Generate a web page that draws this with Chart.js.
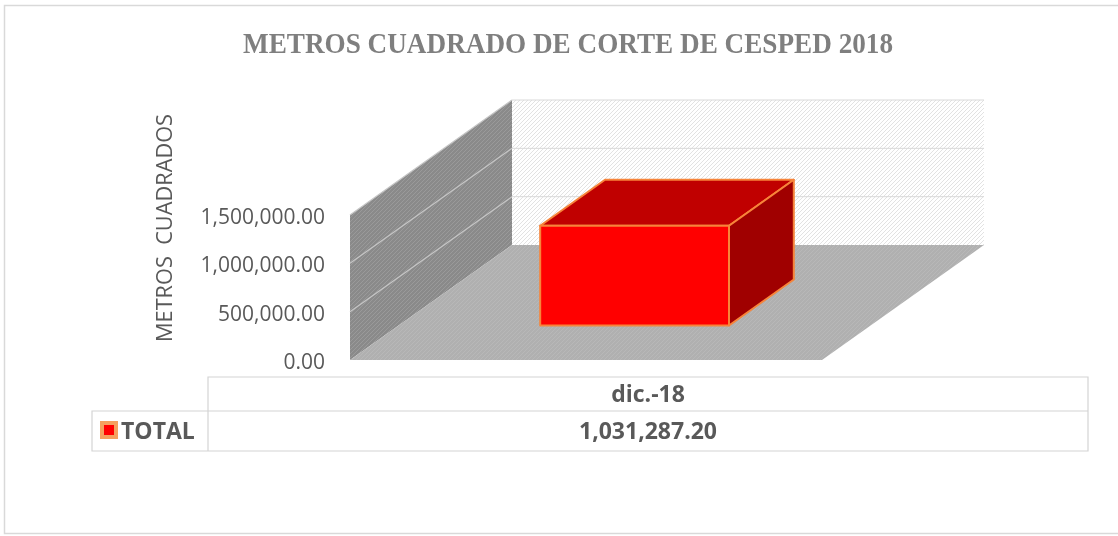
<!DOCTYPE html>
<html>
<head>
<meta charset="utf-8">
<script src="https://cdn.jsdelivr.net/npm/chart.js@4.4.1/dist/chart.umd.min.js"></script>
<style>
  html, body { margin: 0; padding: 0; background: #fff; }
  #wrap { width: 1118px; height: 536px; position: relative; }
</style>
</head>
<body>
<div id="wrap"><canvas id="cesped" width="1118" height="536"></canvas></div>
<script>
const chartTitle = 'METROS CUADRADO DE CORTE DE CESPED 2018';
const axisTitle = 'METROS  CUADRADOS';
const categories = ['dic.-18'];
const seriesName = 'TOTAL';
const totals = [1031287.20];
const yTicks = [0, 500000, 1000000, 1500000];

// 3D depth of the box (front plane -> back wall)
const DX = 162, DY = -115;
const BAR_FRONT = 0.3, BAR_BACK = 0.7;

const fmt = v => v.toLocaleString('en-US', { minimumFractionDigits: 2, maximumFractionDigits: 2 });

function hatch(ctx, bg, line, step) {
    const p = document.createElement('canvas');
    p.width = p.height = step;
    const g = p.getContext('2d');
    g.fillStyle = bg;
    g.fillRect(0, 0, step, step);
    g.strokeStyle = line;
    g.lineWidth = 1;
    g.beginPath();
    g.moveTo(0, step); g.lineTo(step, 0);
    g.moveTo(-1, 1); g.lineTo(1, -1);
    g.moveTo(step - 1, step + 1); g.lineTo(step + 1, step - 1);
    g.stroke();
    return ctx.createPattern(p, 'repeat');
}

function poly(ctx, pts, fill, stroke, lw) {
    ctx.beginPath();
    ctx.moveTo(pts[0][0], pts[0][1]);
    for (let i = 1; i < pts.length; i++) ctx.lineTo(pts[i][0], pts[i][1]);
    ctx.closePath();
    if (fill) { ctx.fillStyle = fill; ctx.fill(); }
    if (stroke) { ctx.strokeStyle = stroke; ctx.lineWidth = lw || 1; ctx.lineJoin = 'round'; ctx.stroke(); }
}

const box3d = {
    id: 'box3d',
    beforeDraw(chart) {
        const ctx = chart.ctx;
        ctx.save();
        // outer frame
        ctx.strokeStyle = '#d9d9d9';
        ctx.lineWidth = 1.5;
        ctx.strokeRect(4.5, 5.5, 1130, 528);

        // title, squeezed to the width of the original
        ctx.font = 'bold 30px "Liberation Serif"';
        ctx.fillStyle = '#7f7f7f';
        ctx.textAlign = 'center';
        ctx.textBaseline = 'alphabetic';
        const tw = ctx.measureText(chartTitle).width;
        ctx.translate(568, 53);
        ctx.scale(650 / tw, 1);
        ctx.fillText(chartTitle, 0, 0);
        ctx.restore();

        // y axis title
        ctx.save();
        ctx.font = '21px "Open Sans"';
        ctx.fillStyle = '#595959';
        ctx.textAlign = 'center';
        ctx.textBaseline = 'middle';
        const aw = ctx.measureText(axisTitle).width;
        ctx.translate(166, 228);
        ctx.rotate(-Math.PI / 2);
        ctx.scale(228 / aw, 1);
        ctx.fillText(axisTitle, 0, 0);
        ctx.restore();
    },
    beforeDatasetsDraw(chart) {
        const ctx = chart.ctx;
        const { left, right } = chart.chartArea;
        const y = chart.scales.y;
        const y0 = y.getPixelForValue(yTicks[0]);
        const yTop = y.getPixelForValue(yTicks[yTicks.length - 1]);
        ctx.save();

        // back wall
        poly(ctx, [[left + DX, yTop + DY], [right + DX, yTop + DY], [right + DX, y0 + DY], [left + DX, y0 + DY]],
            hatch(ctx, '#ffffff', '#e2e2e2', 4));
        // side wall
        poly(ctx, [[left, yTop], [left + DX, yTop + DY], [left + DX, y0 + DY], [left, y0]],
            hatch(ctx, '#8a8a8a', '#9a9a9a', 4));
        // floor
        poly(ctx, [[left, y0], [right, y0], [right + DX, y0 + DY], [left + DX, y0 + DY]],
            hatch(ctx, '#b0b0b0', '#b8b8b8', 4));

        // gridlines on the walls
        yTicks.forEach(v => {
            const py = y.getPixelForValue(v);
            if (v === yTicks[0]) return;
            ctx.beginPath();
            ctx.moveTo(left + DX, py + DY);
            ctx.lineTo(right + DX, py + DY);
            ctx.strokeStyle = '#d9d9d9';
            ctx.lineWidth = 1;
            ctx.stroke();
            ctx.beginPath();
            ctx.moveTo(left, py);
            ctx.lineTo(left + DX, py + DY);
            ctx.strokeStyle = '#c6c6c6';
            ctx.lineWidth = 1.2;
            ctx.stroke();
        });

        // the bars, as boxes
        const meta = chart.getDatasetMeta(0);
        meta.data.forEach(el => {
            const p = el.getProps(['x', 'y', 'base', 'width'], true);
            const l = p.x - p.width / 2, r = p.x + p.width / 2;
            const fx = BAR_FRONT * DX, fy = BAR_FRONT * DY;
            const bx = BAR_BACK * DX, by = BAR_BACK * DY;
            const edge = '#f7843a';
            poly(ctx, [[l + fx, p.y + fy], [r + fx, p.y + fy], [r + bx, p.y + by], [l + bx, p.y + by]], '#c00000', edge, 2);
            poly(ctx, [[r + fx, p.y + fy], [r + bx, p.y + by], [r + bx, p.base + by], [r + fx, p.base + fy]], '#a00000', edge, 2);
            poly(ctx, [[l + fx, p.y + fy], [r + fx, p.y + fy], [r + fx, p.base + fy], [l + fx, p.base + fy]], '#ff0000', edge, 2);
        });
        ctx.restore();
        return false;
    },
    afterDraw(chart) {
        const ctx = chart.ctx;
        const T = { x0: 92, x1: 208, x2: 1088, y0: 377, y1: 411, y2: 451 };
        ctx.save();
        ctx.strokeStyle = '#d4d4d4';
        ctx.lineWidth = 1.2;
        ctx.beginPath();
        ctx.moveTo(T.x1, T.y2); ctx.lineTo(T.x1, T.y0); ctx.lineTo(T.x2, T.y0); ctx.lineTo(T.x2, T.y2);
        ctx.lineTo(T.x0, T.y2); ctx.lineTo(T.x0, T.y1); ctx.lineTo(T.x2, T.y1);
        ctx.stroke();

        ctx.fillStyle = '#595959';
        ctx.font = 'bold 23px "Open Sans"';
        ctx.textBaseline = 'middle';
        ctx.textAlign = 'center';
        const cw = (T.x2 - T.x1) / categories.length;
        categories.forEach((c, i) => {
            const cx = T.x1 + cw * (i + 0.5);
            ctx.fillText(c, cx, (T.y0 + T.y1) / 2 + 1);
            ctx.fillText(fmt(totals[i]), cx, (T.y1 + T.y2) / 2 + 1);
        });
        ctx.textAlign = 'left';
        ctx.fillText(seriesName, 121, (T.y1 + T.y2) / 2 + 1);

        // legend key
        ctx.fillStyle = '#ff0000';
        ctx.fillRect(100, 421, 18, 18);
        ctx.strokeStyle = '#f5a05e';
        ctx.lineWidth = 4;
        ctx.strokeRect(102, 423, 14, 14);
        ctx.restore();
    }
};

new Chart(document.getElementById('cesped').getContext('2d'), {
    type: 'bar',
    data: {
        labels: categories,
        datasets: [{
            label: seriesName,
            data: totals,
            backgroundColor: '#ff0000',
            borderColor: '#f7843a',
            barPercentage: 0.4,
            categoryPercentage: 1
        }]
    },
    options: {
        responsive: false,
        animation: false,
        devicePixelRatio: 1,
        layout: { padding: { left: 20, top: 215, right: 296, bottom: 176 } },
        plugins: {
            legend: { display: false },
            title: { display: false },
            tooltip: { enabled: false }
        },
        scales: {
            x: { display: false },
            y: {
                min: 0,
                max: 1500000,
                afterBuildTicks: scale => { scale.ticks = yTicks.map(v => ({ value: v })); },
                afterFit: scale => { scale.width = 330; },
                grid: { display: false, drawTicks: false },
                border: { display: false },
                ticks: {
                    padding: 25,
                    labelOffset: 3,
                    color: '#595959',
                    font: { family: 'Open Sans', size: 21 },
                    callback: v => fmt(v)
                }
            }
        }
    },
    plugins: [box3d]
});
</script>
</body>
</html>
